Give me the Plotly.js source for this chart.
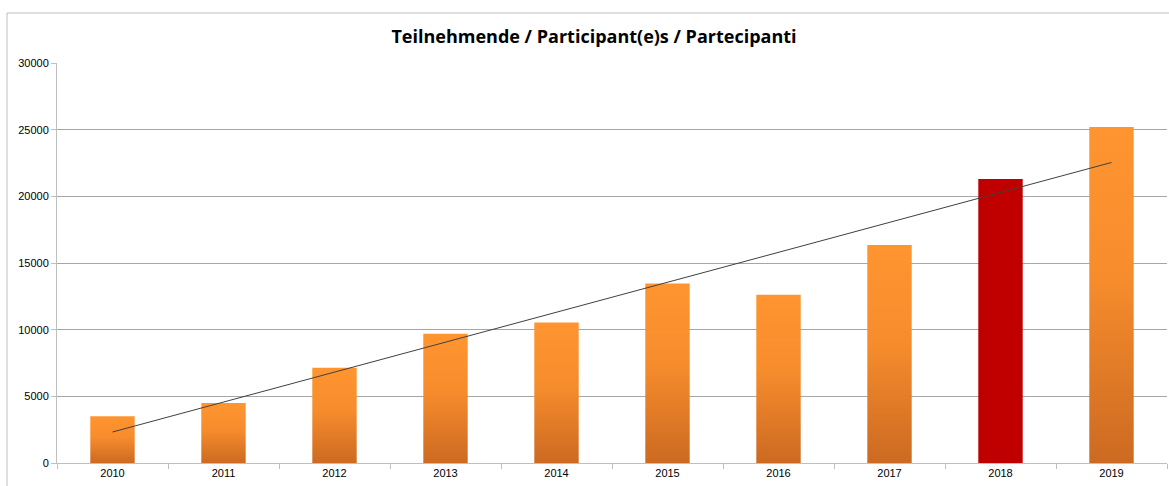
<!DOCTYPE html>
<html>
<head>
<meta charset="utf-8">
<script src="https://cdn.plot.ly/plotly-3.0.1.min.js"></script>
<style>
html,body{margin:0;padding:0;background:#fff;}
#chart{width:1169px;height:486px;}
</style>
</head>
<body>
<div id="chart"></div>
<script>
const years = ['2010','2011','2012','2013','2014','2015','2016','2017','2018','2019'];
const participants = [3500, 4500, 7150, 9700, 10540, 13460, 12620, 16350, 21300, 25200];
const highlightYear = '2018';
const yTicks = [0, 5000, 10000, 15000, 20000, 25000, 30000];

// linear trendline (least squares) computed from the data
const n = participants.length;
const xs = participants.map((_, i) => i);
const mx = xs.reduce((a, b) => a + b, 0) / n;
const my = participants.reduce((a, b) => a + b, 0) / n;
let sxy = 0, sxx = 0;
for (let i = 0; i < n; i++) { sxy += (xs[i] - mx) * (participants[i] - my); sxx += (xs[i] - mx) ** 2; }
const slope = sxy / sxx, icpt = my - slope * mx;
const trend = [icpt, icpt + slope * (n - 1)];

const barColors = years.map(y => y === highlightYear ? '#C00000' : '#F28A2A');

const traces = [
  {
    type: 'bar', x: years, y: participants,
    marker: { color: barColors, line: { width: 0 } },
    hoverinfo: 'x+y'
  },
  {
    type: 'scatter', mode: 'lines', x: [years[0], years[n - 1]], y: trend,
    line: { color: '#404040', width: 1 }, hoverinfo: 'skip'
  }
];

const layout = {
  width: 1169, height: 486,
  margin: { l: 57, r: 2, t: 63, b: 23 },
  paper_bgcolor: '#fff', plot_bgcolor: '#fff',
  showlegend: false,
  bargap: 0.6,
  title: {
    text: '<b>Teilnehmende / Participant(e)s / Partecipanti</b>',
    font: { family: 'Open Sans, Liberation Sans, sans-serif', size: 18, color: '#000' },
    x: 594 / 1169, xref: 'container', xanchor: 'center', y: 1 - 37 / 486, yref: 'container', yanchor: 'middle'
  },
  xaxis: {
    type: 'category',
    tickson: 'boundaries',
    ticks: 'outside', ticklen: 5, tickcolor: '#bfbfbf',
    showline: true, linecolor: '#bfbfbf', linewidth: 1,
    showgrid: false,
    tickfont: { family: 'Liberation Sans, Arial, sans-serif', size: 11, color: '#000' },
    fixedrange: true
  },
  yaxis: {
    range: [0, 30000],
    tickvals: yTicks,
    ticktext: yTicks.map(String),
    ticks: 'outside', ticklen: 5, tickcolor: '#bfbfbf',
    showline: true, linecolor: '#bfbfbf', linewidth: 1,
    showgrid: true, gridcolor: '#a6a6a6', gridwidth: 1,
    zeroline: false,
    tickfont: { family: 'Liberation Sans, Arial, sans-serif', size: 11, color: '#000' },
    fixedrange: true
  },
  shapes: [
    { type: 'rect', xref: 'paper', yref: 'paper',
      x0: (7 - 57) / 1110, x1: 1.02, y0: -0.2, y1: 1 + (63 - 13) / 400,
      line: { color: '#bfbfbf', width: 1 }, fillcolor: 'rgba(0,0,0,0)', layer: 'below' }
  ]
};

Plotly.newPlot('chart', traces, layout, { displayModeBar: false }).then(gd => {
  const svg = gd.querySelector('svg.main-svg');
  const NS = 'http://www.w3.org/2000/svg';
  let defs = svg.querySelector('defs');
  if (!defs) { defs = document.createElementNS(NS, 'defs'); svg.insertBefore(defs, svg.firstChild); }
  const lg = document.createElementNS(NS, 'linearGradient');
  lg.setAttribute('id', 'orangeGrad');
  lg.setAttribute('x1', '0'); lg.setAttribute('y1', '0');
  lg.setAttribute('x2', '0'); lg.setAttribute('y2', '1');
  [['0', '#FF9530'], ['0.45', '#F68C2C'], ['1', '#CC6A22']].forEach(([o, c]) => {
    const s = document.createElementNS(NS, 'stop');
    s.setAttribute('offset', o); s.setAttribute('stop-color', c);
    lg.appendChild(s);
  });
  defs.appendChild(lg);
  const paths = gd.querySelectorAll('.barlayer .point path');
  paths.forEach((p, i) => {
    if (years[i] !== highlightYear) p.style.fill = 'url(#orangeGrad)';
  });
});
</script>
</body>
</html>
